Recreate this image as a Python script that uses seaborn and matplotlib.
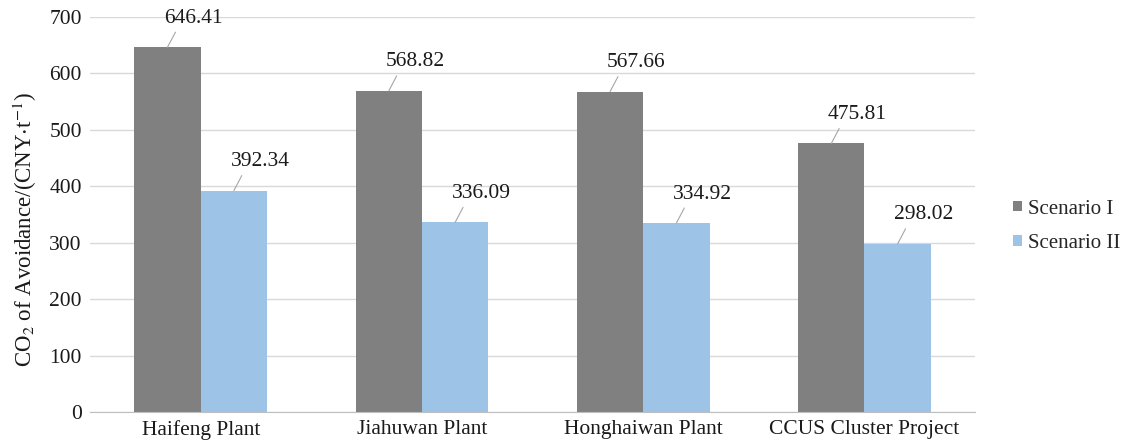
import pandas as pd
import matplotlib.pyplot as plt
import seaborn as sns

# data
plants = ['Haifeng Plant', 'Jiahuwan Plant', 'Honghaiwan Plant', 'CCUS Cluster Project']
scenario_1 = [646.41, 568.82, 567.66, 475.81]
scenario_2 = [392.34, 336.09, 334.92, 298.02]
scenarios = ['Scenario I', 'Scenario II']

df = pd.DataFrame({
    'plant': plants * 2,
    'value': scenario_1 + scenario_2,
    'scenario': [scenarios[0]] * 4 + [scenarios[1]] * 4,
})

sns.set_style('white')
plt.rcParams['font.family'] = ['Liberation Serif', 'DejaVu Serif']
plt.rcParams['mathtext.fontset'] = 'stix'

fig = plt.figure(figsize=(11.26, 4.45), dpi=100)
ax = fig.add_axes([0.08, 0.074, 0.786, 0.888])

sns.barplot(data=df, x='plant', y='value', hue='scenario', width=0.6,
            palette=['#808080', '#9dc3e6'], saturation=1, linewidth=0, ax=ax)

ax.set_ylim(0, 700)
ax.set_yticks(range(0, 701, 100))
ax.yaxis.grid(True, color='#d9d9d9', lw=1)
ax.set_axisbelow(True)
ax.set_xlim(-0.5, 3.5)
for s in ['top', 'right', 'left']:
    ax.spines[s].set_visible(False)
ax.spines['bottom'].set_color('#bfbfbf')
ax.tick_params(axis='both', length=0, labelsize=15.5, colors='#1a1a1a', pad=6)
ax.set_xlabel('')
ax.set_ylabel(r'CO$_2$ of Avoidance/(CNY$\cdot$t$^{-1}$)', fontsize=16.5, color='#1a1a1a')
ax.yaxis.set_label_coords(-0.058, 0.463)

# value labels with leader lines
for cont in ax.containers:
    for bar in cont:
        h = bar.get_height()
        cx = bar.get_x() + bar.get_width() / 2
        ax.annotate(f'{h:.2f}', xy=(cx, h), xytext=(26, 29), textcoords='offset pixels',
                    ha='center', va='center', fontsize=15.5, color='#1a1a1a',
                    arrowprops=dict(arrowstyle='-', color='#a6a6a6', lw=0.8,
                                    shrinkA=1, shrinkB=0, relpos=(0.25, 0.1)))

ax.legend(loc='center left', bbox_to_anchor=(1.022, 0.47), frameon=False, fontsize=15,
          handlelength=0.4, handleheight=0.4, handletextpad=0.3, labelspacing=0.75)

plt.savefig('out.png')
